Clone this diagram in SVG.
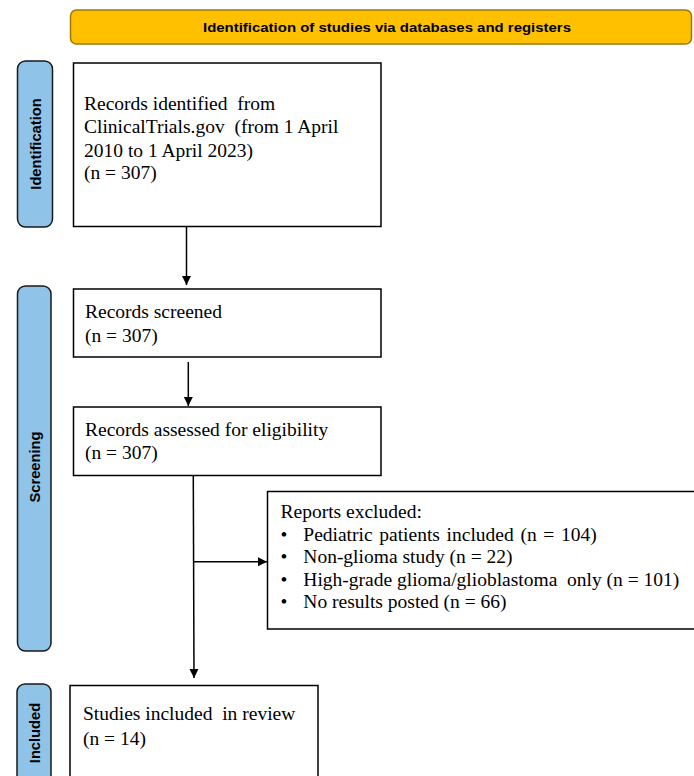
<svg xmlns="http://www.w3.org/2000/svg" width="694" height="776" viewBox="0 0 694 776">
<style>
.box{fill:#fff;stroke:#000;stroke-width:1.5}
.side{fill:#8fc3e7;stroke:#1a1a1a;stroke-width:1.5}
.hdr{fill:#ffc000;stroke:#a07800;stroke-width:1.5}
.t{font-family:"Liberation Serif","Times New Roman",serif;font-size:19.5px;fill:#000;white-space:pre}
.s{font-family:"Liberation Sans",Arial,sans-serif;font-weight:bold;font-size:14.7px;fill:#000;text-anchor:middle}
.h{font-family:"Liberation Sans",Arial,sans-serif;font-weight:bold;font-size:13.5px;fill:#000;text-anchor:middle}
.c{stroke:#000;stroke-width:1.5;fill:none}
</style>
<defs>
<marker id="ah" markerWidth="10" markerHeight="10" refX="9" refY="5" orient="auto" markerUnits="userSpaceOnUse">
<path d="M0,0.5 L9,5 L0,9.5 Z" fill="#000"/>
</marker>
</defs>
<rect width="694" height="776" fill="#fff"/>
<g id="header">
<rect class="hdr" x="70.5" y="10" width="621" height="34" rx="6"/>
<text class="h" x="387" y="32" textLength="368" lengthAdjust="spacingAndGlyphs">Identification of studies via databases and registers</text>
</g>
<g id="side-identification">
<rect class="side" x="17.5" y="61" width="35" height="166" rx="8"/>
<text class="s" transform="translate(41,144) rotate(-90)">Identification</text>
</g>
<g id="side-screening">
<rect class="side" x="17.5" y="286" width="33.5" height="365" rx="8"/>
<text class="s" transform="translate(39.5,467) rotate(-90)">Screening</text>
</g>
<g id="side-included">
<rect class="side" x="17" y="684" width="34" height="110" rx="8"/>
<text class="s" transform="translate(39.5,733) rotate(-90)">Included</text>
</g>
<g id="records-identified">
<rect class="box" x="73.5" y="63" width="307.5" height="163.5"/>
<text class="t" x="84" y="110" xml:space="preserve">Records identified  from</text>
<text class="t" x="84" y="133.3" xml:space="preserve">ClinicalTrials.gov  (from 1 April</text>
<text class="t" x="84" y="156.6">2010 to 1 April 2023)</text>
<text class="t" x="84" y="179">(n = 307)</text>
</g>
<g id="records-screened">
<rect class="box" x="73.5" y="289" width="307.5" height="68"/>
<text class="t" x="85" y="317.5">Records screened</text>
<text class="t" x="85" y="341.5">(n = 307)</text>
</g>
<g id="records-assessed">
<rect class="box" x="73.5" y="407" width="307.5" height="68.5"/>
<text class="t" x="85" y="435.7">Records assessed for eligibility</text>
<text class="t" x="85" y="459">(n = 307)</text>
</g>
<g id="reports-excluded">
<rect class="box" x="267.5" y="491.5" width="440" height="137.5"/>
<text class="t" x="280.5" y="518.3">Reports excluded:</text>
<text class="t" x="280.5" y="540.8">•</text><text class="t" x="303.3" y="540.8" word-spacing="1.8">Pediatric patients included (n = 104)</text>
<text class="t" x="280.5" y="563.3">•</text><text class="t" x="303.3" y="563.3">Non-glioma study (n = 22)</text>
<text class="t" x="280.5" y="585.8">•</text><text class="t" x="303.3" y="585.8" xml:space="preserve">High-grade glioma/glioblastoma  only (n = 101)</text>
<text class="t" x="280.5" y="608.3">•</text><text class="t" x="303.3" y="608.3">No results posted (n = 66)</text>
</g>
<g id="studies-included">
<rect class="box" x="70" y="685.5" width="248" height="110"/>
<text class="t" x="83" y="720" xml:space="preserve">Studies included  in review</text>
<text class="t" x="83" y="745">(n = 14)</text>
</g>
<g id="connectors">
<line class="c" x1="186.5" y1="227" x2="186.5" y2="285" marker-end="url(#ah)"/>
<line class="c" x1="188.3" y1="362" x2="188.3" y2="406" marker-end="url(#ah)"/>
<line class="c" x1="193.3" y1="476" x2="194" y2="678" marker-end="url(#ah)"/>
<line class="c" x1="193.5" y1="561.7" x2="267" y2="561.7" marker-end="url(#ah)"/>
</g>
</svg>
